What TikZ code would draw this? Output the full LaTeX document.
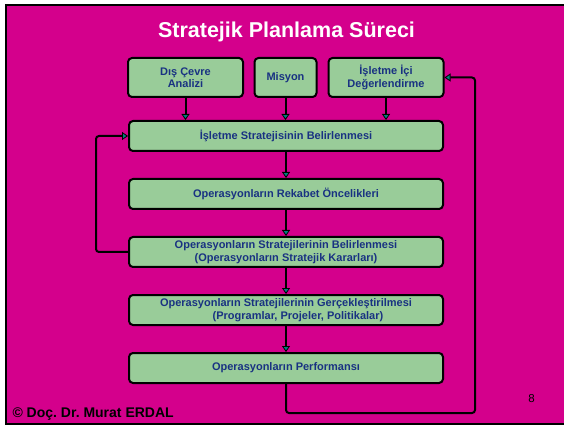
\documentclass[tikz,border=0pt]{standalone}
\usepackage{fontspec}
\setmainfont{Liberation Sans}
\usetikzlibrary{arrows.meta}
\frenchspacing
\definecolor{pinkbg}{RGB}{212,0,140}
\definecolor{boxgreen}{RGB}{153,204,153}
\definecolor{txtblue}{RGB}{25,50,130}
\definecolor{tealtip}{RGB}{0,128,128}
\tikzset{
  procbox/.style={draw=black, line width=2pt, rounded corners=4pt, fill=boxgreen,
    text=txtblue, font=\bfseries\fontsize{11}{12.5}\selectfont, align=center, inner sep=0pt},
  topbox/.style={procbox, minimum height=39pt},
  widebox/.style={procbox, minimum width=314pt, minimum height=30pt},
  conn/.style={line width=2pt, draw=black,
    -{Triangle[fill=tealtip, length=6pt, width=8pt, line width=0.8pt]}},
  fb/.style={conn, rounded corners=3pt}
}
\begin{document}
\begin{tikzpicture}[x=1pt,y=-1pt]
\useasboundingbox (0,0) rectangle (564,427);
\fill[white] (0,0) rectangle (564,427);
\draw[fill=pinkbg, line width=2.2pt] (6,5) rectangle (572,424);

\node[text=white, font=\bfseries\fontsize{21.5}{24}\selectfont] (title) at (286.5,32) {Stratejik Planlama Süreci};

\node[topbox, minimum width=115pt] (dis) at (185.5,77.5) {Dış Çevre\\Analizi};
\node[topbox, minimum width=62pt] (mis) at (285.5,77.5) {Misyon};
\node[topbox, minimum width=115pt] (ic) at (386,77.5) {İşletme İçi\\Değerlendirme};

\node[widebox] (b1) at (286,136) {İşletme Stratejisinin Belirlenmesi};
\node[widebox] (b2) at (286,194) {Operasyonların Rekabet Öncelikleri};
\node[widebox] (b3) at (286,252) {Operasyonların Stratejilerinin Belirlenmesi\\(Operasyonların Stratejik Kararları)};
\node[widebox] (b4) at (286,310) {Operasyonların Stratejilerinin Gerçekleştirilmesi\\\hspace*{24pt}(Programlar, Projeler, Politikalar)};
\node[widebox] (b5) at (286,368) {Operasyonların Performansı};

\draw[conn] (dis.south) -- (dis.south |- b1.north);
\draw[conn] (mis.south) -- (mis.south |- b1.north);
\draw[conn] (ic.south) -- (ic.south |- b1.north);
\draw[conn] (b1) -- (b2);
\draw[conn] (b2) -- (b3);
\draw[conn] (b3) -- (b4);
\draw[conn] (b4) -- (b5);

\coordinate (lft) at (96,0);
\draw[fb] (b3.west) -- (b3.west -| lft) -- (b1.west -| lft) -- (b1.west);

\coordinate (rgt) at (475,413);
\draw[fb] (b5.south) -- (b5.south |- rgt) -- (rgt) -- (rgt |- ic.east) -- (ic.east);

\node[anchor=base west, font=\bfseries\fontsize{14}{16}\selectfont, text=black] (copy) at (9,417) {©~Doç. Dr. Murat ERDAL};
\node[anchor=base, font=\fontsize{11.5}{13}\selectfont, text=black] (page) at (531.5,402) {8};
\end{tikzpicture}
\end{document}
